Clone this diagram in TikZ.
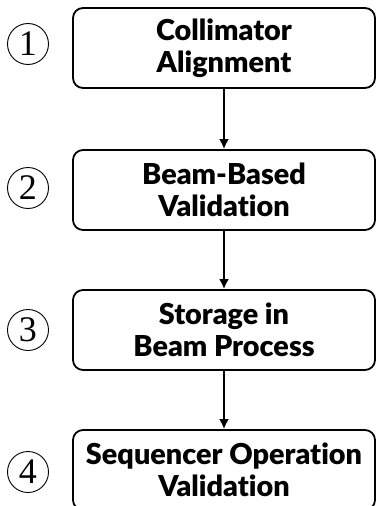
\documentclass[tikz,border=0pt]{standalone}
\usepackage{fontspec}
\newfontfamily\stagefont{Lato Black}[Ligatures=NoCommon]
\newfontfamily\numfont{Liberation Serif}
\usetikzlibrary{positioning, arrows, arrows.meta}

\begin{document}
\begin{tikzpicture}[x=1pt, y=-1pt,
  stage/.style={draw, rounded corners=10pt, line width=1.8pt, minimum width=302pt, minimum height=80pt, align=center, inner sep=0pt, font=\stagefont\fontsize{28.8}{32}\selectfont},
  num/.style={draw, circle, line width=0.9pt, minimum size=41pt, inner sep=0pt, font=\numfont\fontsize{36}{36}\selectfont},
  flow/.style={-{Latex[length=10pt, width=10pt]}, line width=2.2pt}]
  \useasboundingbox (0,0) rectangle (376,506);

  \node[stage] (s1) at (224,48) {Collimator\\Alignment};
  \node[stage] (s2) at (224,190) {Beam-Based\\Validation};
  \node[stage] (s3) at (224,330) {Storage in\\Beam Process};
  \node[stage] (s4) at (224,470) {Sequencer Operation\\Validation};

  \node[num] (n1) at (28,44) {1};
  \node[num] (n2) at (28,188) {2};
  \node[num] (n3) at (28,330) {3};
  \node[num] (n4) at (28,472) {4};

  \draw[flow] (s1) -- (s2);
  \draw[flow] (s2) -- (s3);
  \draw[flow] (s3) -- (s4);
\end{tikzpicture}
\end{document}
